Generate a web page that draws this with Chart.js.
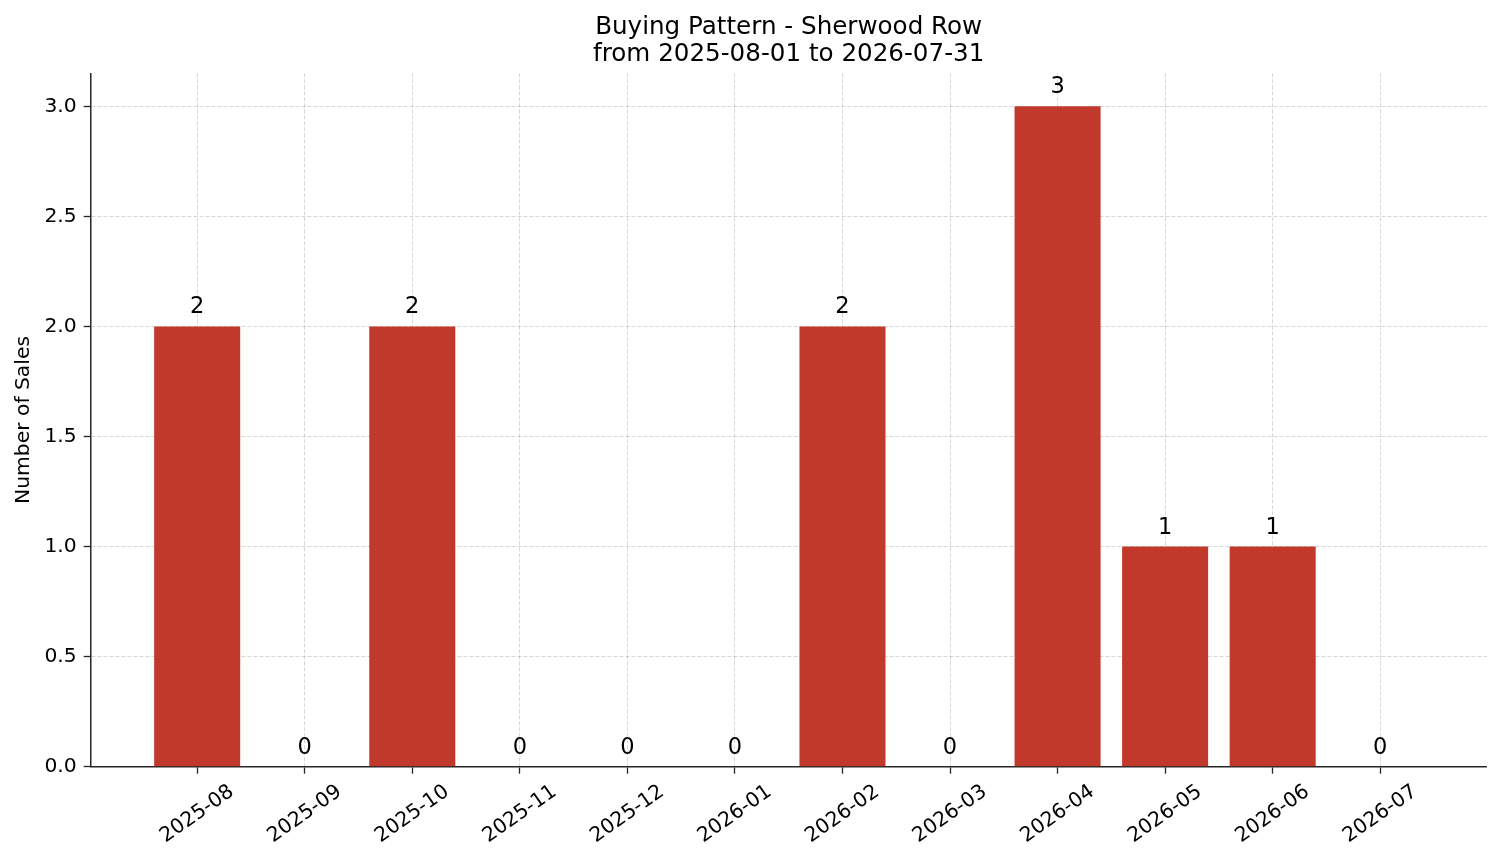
<!DOCTYPE html>
<html>
<head>
<meta charset="utf-8">
<title>Buying Pattern - Sherwood Row</title>
<script src="https://cdn.jsdelivr.net/npm/chart.js@4.4.1/dist/chart.umd.min.js"></script>
<style>
    html, body { margin: 0; padding: 0; background: #fff; }
    #wrap { width: 1501px; height: 863px; position: relative; }
</style>
</head>
<body>
<div id="wrap"><canvas id="barChart"></canvas></div>
<script>
const titulo = ["Buying Pattern - Sherwood Row", "from 2025-08-01 to 2026-07-31"];
const meses = ["2025-08", "2025-09", "2025-10", "2025-11", "2025-12", "2026-01",
               "2026-02", "2026-03", "2026-04", "2026-05", "2026-06", "2026-07"];
const vendas = [2, 0, 2, 0, 0, 0, 2, 0, 3, 1, 1, 0];
const yTicks = [0, 0.5, 1.0, 1.5, 2.0, 2.5, 3.0];
const yLabel = "Number of Sales";

const FONT = "'DejaVu Sans', sans-serif";
const corBarra = "#c0392b";
const corEixo = "#262626";
const corGrade = "rgba(0,0,0,0.2)";

// titulo centrado sobre a area do grafico (e nao sobre o canvas inteiro)
const tituloCentrado = {
    id: "tituloCentrado",
    afterDraw(chart) {
        const ctx = chart.ctx;
        const area = chart.chartArea;
        const cx = (area.left + area.right) / 2;
        ctx.save();
        ctx.font = `24.6px ${FONT}`;
        ctx.fillStyle = "#000";
        ctx.textAlign = "center";
        ctx.textBaseline = "alphabetic";
        titulo.forEach((linha, i) => {
            ctx.fillText(linha, cx, 34.3 + i * 26.7);
        });
        ctx.restore();
    }
};

// rotulos do eixo x inclinados, centrados no tick (como no matplotlib)
const rotulosX = {
    id: "rotulosX",
    afterDraw(chart) {
        const ctx = chart.ctx;
        const x = chart.scales.x;
        const ang = 35 * Math.PI / 180;
        const size = 20.3;
        const topo = chart.chartArea.bottom + 7 + 7;

        ctx.save();
        ctx.font = `${size}px ${FONT}`;
        ctx.fillStyle = "#000";
        ctx.textAlign = "center";
        ctx.textBaseline = "middle";
        for (let i = 0; i < meses.length; i++) {
            const w = ctx.measureText(meses[i]).width;
            const h = size * 1.1;
            const meia = (w * Math.sin(ang) + h * Math.cos(ang)) / 2;
            ctx.save();
            ctx.translate(x.getPixelForValue(i), topo + meia);
            ctx.rotate(-ang);
            ctx.fillText(meses[i], 0, 0);
            ctx.restore();
        }
        ctx.restore();
    }
};

// valores em cima das barras
const valoresBarras = {
    id: "valoresBarras",
    afterDraw(chart) {
        const ctx = chart.ctx;
        const meta = chart.getDatasetMeta(0);
        ctx.save();
        ctx.font = `22.5px ${FONT}`;
        ctx.fillStyle = "#000";
        ctx.textAlign = "center";
        ctx.textBaseline = "alphabetic";
        meta.data.forEach((bar, i) => {
            ctx.fillText(String(vendas[i]), bar.x, bar.y - 13);
        });
        ctx.restore();
    }
};

function mostrarGrafico() {
    const ctx = document.getElementById("barChart");

    new Chart(ctx, {
        type: "bar",
        data: {
            datasets: [{
                label: "Sales",
                data: meses.map((m, i) => ({ x: i, y: vendas[i] })),
                backgroundColor: corBarra,
                borderWidth: 0,
                barPercentage: 0.8,
                categoryPercentage: 1.0
            }]
        },
        options: {
            responsive: true,
            maintainAspectRatio: false,
            animation: false,
            layout: { padding: { left: 0, right: 14.3, top: 73.3, bottom: 0 } },
            plugins: {
                legend: { display: false },
                tooltip: { enabled: false },
                title: { display: false }
            },
            scales: {
                x: {
                    type: "linear",
                    min: -0.99,
                    max: 11.99,
                    offset: false,
                    z: 1,
                    afterBuildTicks: (scale) => {
                        scale.ticks = meses.map((m, i) => ({ value: i }));
                    },
                    afterFit: (scale) => { scale.height = 96.3; },
                    ticks: { display: false },
                    grid: {
                        offset: false,
                        color: corGrade,
                        lineWidth: 0.8,
                        drawTicks: true,
                        tickLength: 7,
                        tickColor: corEixo,
                        tickWidth: 1.3,
                        tickBorderDash: []
                    },
                    border: { display: true, color: corEixo, width: 1.5, dash: [4, 2] }
                },
                y: {
                    type: "linear",
                    min: 0,
                    max: 3.15,
                    z: 1,
                    afterBuildTicks: (scale) => {
                        scale.ticks = yTicks.map(v => ({ value: v }));
                    },
                    afterFit: (scale) => { scale.width = 90.7; },
                    ticks: {
                        color: "#000",
                        font: { family: FONT, size: 20.3 },
                        padding: 7,
                        callback: (v) => Number(v).toFixed(1)
                    },
                    grid: {
                        color: corGrade,
                        lineWidth: 0.8,
                        drawTicks: true,
                        tickLength: 7,
                        tickColor: corEixo,
                        tickWidth: 1.3,
                        tickBorderDash: []
                    },
                    border: { display: true, color: corEixo, width: 1.5, dash: [4, 2] },
                    title: {
                        display: true,
                        text: yLabel,
                        color: "#000",
                        font: { family: FONT, size: 20.3 },
                        padding: { top: 11.3, bottom: 0 }
                    }
                }
            }
        },
        plugins: [tituloCentrado, rotulosX, valoresBarras]
    });
}

document.addEventListener("DOMContentLoaded", mostrarGrafico);
</script>
</body>
</html>
